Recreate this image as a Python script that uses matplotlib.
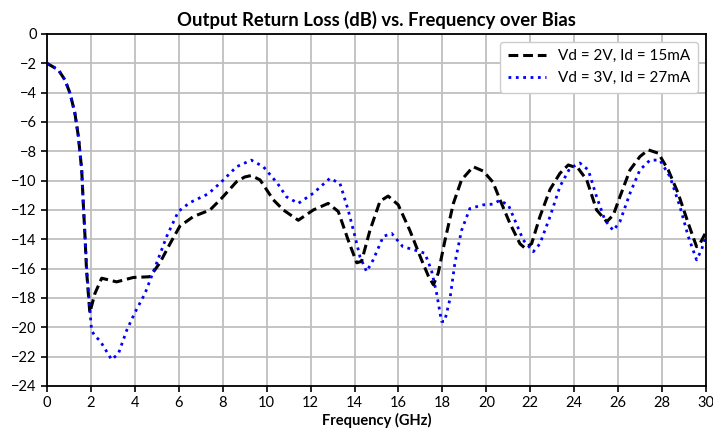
import matplotlib
matplotlib.use("Agg")
import matplotlib.pyplot as plt

plt.rcParams['font.family'] = ['Lato', 'DejaVu Sans']

# Vd = 2V, Id = 15mA
freq_2v = [0.0, 0.52, 0.82, 1.05, 1.27, 1.43, 1.58, 1.65, 1.73, 1.8, 1.95,
           2.18, 2.49, 3.17, 3.93, 4.69, 5.14, 5.6, 6.05, 6.66, 7.42, 7.95,
           8.63, 9.0, 9.3, 9.7, 10.3, 10.76, 11.44, 12.12, 12.8, 13.26, 13.71,
           14.1, 14.32, 14.7, 15.16, 15.53, 15.99, 16.52, 17.05, 17.36, 17.59,
           17.81, 18.12, 18.5, 18.87, 19.4, 19.86, 20.3, 20.62, 21.07, 21.53,
           21.76, 22.06, 22.44, 22.9, 23.35, 23.73, 24.18, 24.57, 25.02, 25.48,
           25.78, 26.08, 26.54, 26.99, 27.37, 27.83, 28.28, 28.73, 29.19, 29.57,
           29.72, 30.0]
rl_2v = [-2.0, -2.45, -3.14, -4.05, -5.4, -7.0, -9.27, -11.5, -13.8, -16.1, -19.0,
         -17.7, -16.65, -16.9, -16.6, -16.55, -15.6, -14.3, -13.1, -12.45, -12.0, -11.2,
         -10.07, -9.75, -9.65, -9.95, -11.3, -12.0, -12.7, -12.0, -11.55, -12.1, -14.05,
         -15.6, -15.5, -13.4, -11.4, -11.05, -11.65, -13.4, -15.4, -16.5, -17.1,
         -16.3, -14.05, -11.55, -9.95, -9.05, -9.35, -10.1, -11.3, -12.9, -14.3,
         -14.6, -14.3, -12.45, -10.6, -9.5, -8.93, -9.16, -9.95, -12.0, -12.8,
         -12.34, -11.1, -9.27, -8.36, -7.9, -8.13, -9.27, -10.86, -12.9, -14.5,
         -14.3, -13.5]

# Vd = 3V, Id = 27mA
freq_3v = [0.0, 0.52, 0.82, 1.05, 1.27, 1.43, 1.58, 1.65, 1.73, 1.82, 1.95,
           2.03, 2.18, 2.41, 2.94, 3.25, 3.63, 4.0, 4.46, 4.92, 5.45, 5.98,
           6.5, 7.34, 7.95, 8.63, 9.3, 9.85, 10.5, 10.9, 11.44, 12.12, 12.88,
           13.34, 13.71, 14.02, 14.25, 14.55, 14.85, 15.31, 15.69, 16.2, 16.67,
           17.2, 17.5, 17.74, 17.96, 18.1, 18.34, 18.57, 18.87, 19.25, 19.86,
           20.3, 20.6, 21.0, 21.3, 21.68, 22.14, 22.44, 22.9, 23.35, 23.8, 24.26,
           24.64, 25.02, 25.4, 25.78, 26.08, 26.54, 26.99, 27.45, 27.9, 28.36,
           28.82, 29.19, 29.57, 29.8, 30.0]
rl_3v = [-2.0, -2.45, -3.14, -4.05, -5.4, -7.0, -9.27, -11.5, -13.8, -16.3, -18.8,
         -20.2, -20.6, -20.9, -22.2, -21.8, -20.2, -19.0, -17.7, -15.9, -13.8, -12.1,
         -11.5, -10.9, -10.07, -9.05, -8.6, -9.05, -10.2, -11.1, -11.55, -10.86, -9.84,
         -10.2, -12.0, -13.8, -15.2, -16.2, -15.4, -13.8, -13.6, -14.5, -14.7,
         -14.95, -16.1, -17.7, -19.6, -19.6, -18.1, -15.6, -13.4, -11.9, -11.65,
         -11.6, -11.35, -11.65, -12.7, -14.05, -14.84, -14.3, -12.45, -10.4, -9.16, -8.8,
         -9.27, -11.1, -12.7, -13.4, -12.8, -10.86, -9.27, -8.6, -8.6, -9.73,
         -11.8, -13.8, -15.4, -14.7, -13.7]

x_ticks = list(range(0, 31, 2))
y_ticks = list(range(-24, 1, 2))

fig = plt.figure(figsize=(7.13, 4.34), dpi=100)
ax = fig.add_axes([0.0659, 0.1106, 0.9243, 0.8111])

ax.plot(freq_2v, rl_2v, color='black', linestyle='--', linewidth=2.2,
        dashes=(3.2, 1.6), label='Vd = 2V, Id = 15mA')
ax.plot(freq_3v, rl_3v, color='blue', linestyle=':', linewidth=2.0,
        label='Vd = 3V, Id = 27mA')

ax.set_xlim(0, 30)
ax.set_ylim(-24, 0)
ax.set_xticks(x_ticks)
ax.set_yticks(y_ticks)
ax.grid(True, color='#bfbfbf', linewidth=1.3)
ax.set_axisbelow(True)
ax.tick_params(labelsize=10.5, length=4, width=1.2)
for s in ax.spines.values():
    s.set_linewidth(1.3)

ax.set_title('Output Return Loss (dB) vs. Frequency over Bias', fontsize=13.3,
             fontweight='bold', pad=6)
ax.set_xlabel('Frequency (GHz)', fontsize=10.5, fontweight='bold', labelpad=2)
ax.legend(loc='upper right', fontsize=11, handlelength=2.5, framealpha=1,
          borderpad=0.5)

fig.savefig('out.png', dpi=100)
